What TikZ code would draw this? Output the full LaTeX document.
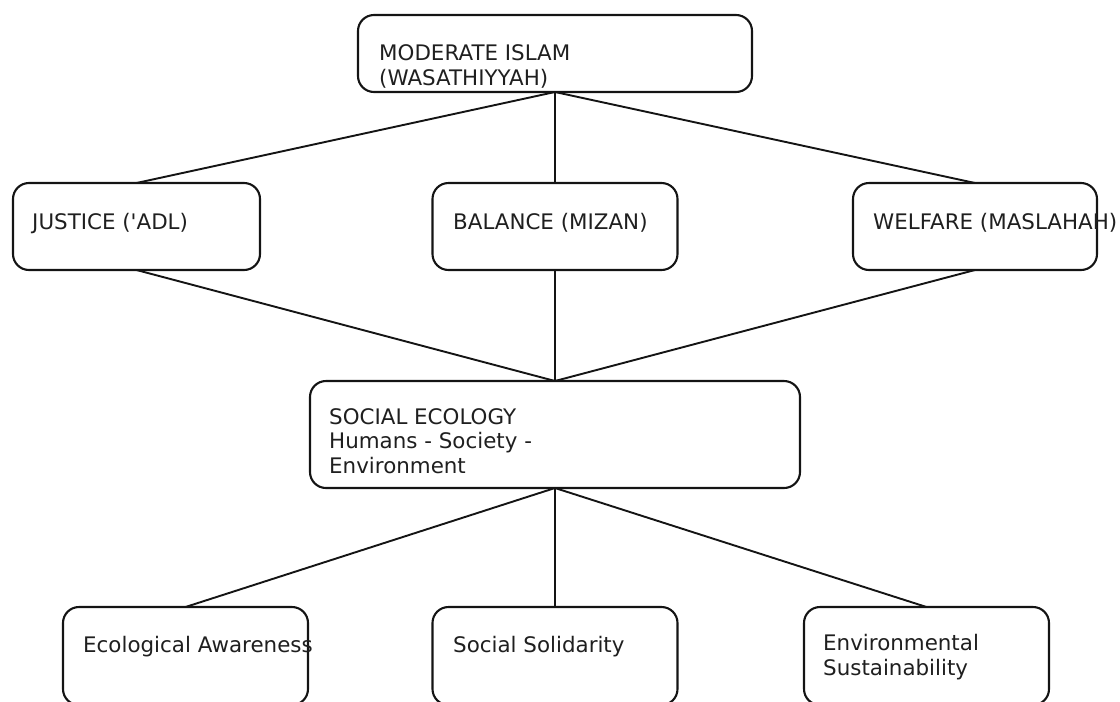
\documentclass[tikz,border=0pt]{standalone}
\usepackage{fontspec}
\newfontfamily\dv{DejaVu Sans}
\begin{document}
\begin{tikzpicture}[x=1pt,y=-1pt,
  box/.style={draw=black!92, line width=2.1pt, rounded corners=16pt, inner sep=0pt, outer sep=0pt},
  lbl/.style={anchor=base west, align=left, inner sep=0pt, text=black!88, font=\dv\fontsize{21.4}{24.5}\selectfont},
  link/.style={draw=black!92, line width=1.9pt}]
\useasboundingbox (0,0) rectangle (1120,702);
% boxes
\node[box, minimum width=394pt, minimum height=77pt] (top) at (555,53.5) {};
\node[box, minimum width=247pt, minimum height=87pt] (adl) at (136.5,226.5) {};
\node[box, minimum width=245pt, minimum height=87pt] (mizan) at (555,226.5) {};
\node[box, minimum width=244pt, minimum height=87pt] (maslahah) at (975,226.5) {};
\node[box, minimum width=490pt, minimum height=107pt] (eco) at (555,434.5) {};
\node[box, minimum width=245pt, minimum height=98pt] (aware) at (185.5,656) {};
\node[box, minimum width=245pt, minimum height=98pt] (solid) at (555,656) {};
\node[box, minimum width=245pt, minimum height=98pt] (sustain) at (926.5,656) {};
% connectors
\draw[link] (top.south) -- (adl.north);
\draw[link] (top.south) -- (mizan.north);
\draw[link] (top.south) -- (maslahah.north);
\draw[link] (adl.south) -- (eco.north);
\draw[link] (mizan.south) -- (eco.north);
\draw[link] (maslahah.south) -- (eco.north);
\draw[link] (eco.south) -- (aware.north);
\draw[link] (eco.south) -- (solid.north);
\draw[link] (eco.south) -- (sustain.north);
% labels (multi-line labels anchored at the baseline of their last line)
\node[lbl] (ttop) at (379,85) {MODERATE ISLAM\\(WASATHIYYAH)};
\node[lbl] (tadl) at (32,229) {JUSTICE ('ADL)};
\node[lbl] (tmizan) at (453,229) {BALANCE (MIZAN)};
\node[lbl] (tmaslahah) at (873,229) {WELFARE (MASLAHAH)};
\node[lbl] (teco) at (329,473) {SOCIAL ECOLOGY\\Humans - Society -\\Environment};
\node[lbl] (taware) at (83,652) {Ecological Awareness};
\node[lbl] (tsolid) at (453,652) {Social Solidarity};
\node[lbl] (tsustain) at (823,675) {Environmental\\Sustainability};
\end{tikzpicture}
\end{document}
